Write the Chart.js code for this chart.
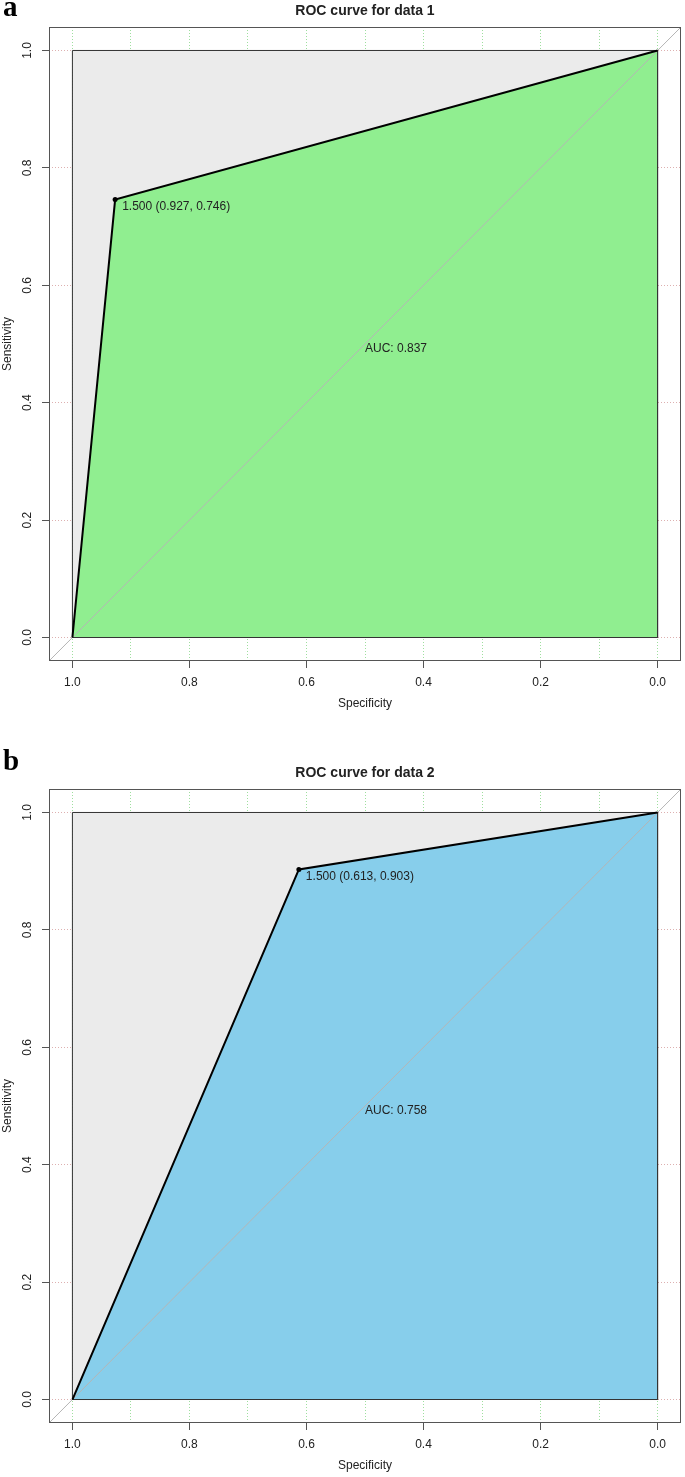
<!DOCTYPE html>
<html>
<head>
<meta charset="utf-8">
<script src="https://cdn.jsdelivr.net/npm/chart.js@4.4.1/dist/chart.umd.min.js"></script>
<style>
  body { margin: 0; background: #fff; }
  #page { position: relative; width: 685px; height: 1477px; overflow: hidden; }
  canvas { position: absolute; left: 0; }
  .tag { position: absolute; left: 3px; font: bold 29px "Liberation Serif", "Times New Roman", serif; line-height: 29px; color: #000; }
</style>
</head>
<body>
<div id="page">
  <canvas id="chartA" width="685" height="715" style="top:0"></canvas>
  <canvas id="chartB" width="685" height="715" style="top:762px"></canvas>
  <div class="tag" style="top:-8px">a</div>
  <div class="tag" style="top:746px">b</div>
</div>
<script>
// data
const titles = ['ROC curve for data 1', 'ROC curve for data 2'];
const specA = [1.0, 0.927, 0.0];
const sensA = [0.0, 0.746, 1.0];
const specB = [1.0, 0.613, 0.0];
const sensB = [0.0, 0.903, 1.0];
const thresholds = [1.5, 1.5];
const aucs = [0.837, 0.758];
const majorTicks = [0.0, 0.2, 0.4, 0.6, 0.8, 1.0];

const FONT = '"Liberation Sans", Arial, Helvetica, sans-serif';
const pts = (xs, ys) => xs.map((v, i) => ({ x: v, y: ys[i] }));
const isMajor = v => Math.round(v * 10) % 2 === 0;

// frame, rotated y labels and the two text notes
const rocText = {
  id: 'rocText',
  afterDatasetsDraw(chart, args, opts) {
    const { ctx, chartArea: a, scales: { x, y } } = chart;
    ctx.save();
    ctx.strokeStyle = '#555';
    ctx.lineWidth = 1;
    ctx.strokeRect(a.left + 0.5, a.top + 0.5, a.right - a.left - 1, a.bottom - a.top - 1);
    ctx.font = '12px ' + FONT;
    ctx.fillStyle = '#222';
    ctx.textBaseline = 'middle';
    ctx.textAlign = 'left';
    const px = x.getPixelForValue(opts.spec), py = y.getPixelForValue(opts.sens);
    ctx.fillText(opts.thr.toFixed(3) + ' (' + opts.spec.toFixed(3) + ', ' + opts.sens.toFixed(3) + ')', px + 7, py + 7);
    ctx.fillText('AUC: ' + opts.auc.toFixed(3), x.getPixelForValue(0.5), y.getPixelForValue(0.5) + 5);
    ctx.textAlign = 'center';
    majorTicks.forEach(v => {
      ctx.save();
      ctx.translate(28, y.getPixelForValue(v));
      ctx.rotate(-Math.PI / 2);
      ctx.fillText(v.toFixed(1), 0, 0);
      ctx.restore();
    });
    ctx.restore();
  }
};

function makeChart(id, title, spec, sens, color, thr, auc) {
  const roc = pts(spec, sens);
  return new Chart(document.getElementById(id), {
    type: 'scatter',
    data: {
      datasets: [
        { data: [roc[1]], pointRadius: 2.5, backgroundColor: '#000', borderWidth: 0 },
        { data: roc, showLine: true, borderColor: '#000', borderWidth: 2, pointRadius: 0, fill: false },
        { data: pts([1, 1, 0, 0, 1], [0, 1, 1, 0, 0]), showLine: true, borderColor: '#333', borderWidth: 1, pointRadius: 0, fill: false },
        { data: pts([1.04, -0.04], [-0.04, 1.04]), showLine: true, borderColor: '#b5b5b5', borderWidth: 1, pointRadius: 0, fill: false },
        { data: roc, showLine: true, borderColor: 'transparent', borderWidth: 0, pointRadius: 0, backgroundColor: color, fill: { value: 0 } },
        { data: pts([1, 0], [1, 1]), showLine: true, borderColor: 'transparent', borderWidth: 0, pointRadius: 0, backgroundColor: '#ebebeb', fill: { value: 0 } }
      ]
    },
    options: {
      responsive: false,
      animation: false,
      layout: { padding: { left: 0, right: 2, top: 0, bottom: 0 } },
      plugins: {
        legend: { display: false },
        tooltip: { enabled: false },
        title: {
          display: true, text: title, fullSize: false, color: '#222',
          font: { family: FONT, size: 14, weight: 'bold' },
          padding: { top: 2.6, bottom: 7.6 }
        },
        rocText: { spec: spec[1], sens: sens[1], thr: thr, auc: auc }
      },
      scales: {
        x: {
          type: 'linear', reverse: true, min: -0.04, max: 1.04,
          afterFit: s => { s.height = 54; },
          border: { display: false, dash: [1, 2] },
          grid: {
            color: '#9edf9e', lineWidth: 1, tickLength: 7, tickWidth: 1, tickBorderDash: [],
            tickColor: c => (c.tick && isMajor(c.tick.value)) ? '#555' : 'transparent'
          },
          ticks: {
            stepSize: 0.1, includeBounds: false, maxTicksLimit: 20, autoSkip: false, maxRotation: 0,
            padding: 7, color: '#222', font: { family: FONT, size: 12 },
            callback: v => isMajor(v) ? v.toFixed(1) : ''
          },
          title: { display: true, text: 'Specificity', color: '#222', font: { family: FONT, size: 12 }, padding: { top: 0, bottom: 3.8 } }
        },
        y: {
          type: 'linear', min: -0.04, max: 1.04,
          afterFit: s => { s.width = 49; },
          border: { display: false, dash: [1, 2] },
          grid: { color: '#ddb0b0', lineWidth: 1, tickLength: 7, tickWidth: 1, tickColor: '#555', tickBorderDash: [] },
          ticks: {
            stepSize: 0.2, includeBounds: false, maxTicksLimit: 20, autoSkip: false,
            font: { family: FONT, size: 12 }, callback: () => ''
          },
          title: { display: true, text: 'Sensitivity', color: '#222', font: { family: FONT, size: 12 }, padding: { top: 0, bottom: 0 } }
        }
      }
    },
    plugins: [rocText]
  });
}

makeChart('chartA', titles[0], specA, sensA, '#90ee90', thresholds[0], aucs[0]);
makeChart('chartB', titles[1], specB, sensB, '#87ceeb', thresholds[1], aucs[1]);
</script>
</body>
</html>
